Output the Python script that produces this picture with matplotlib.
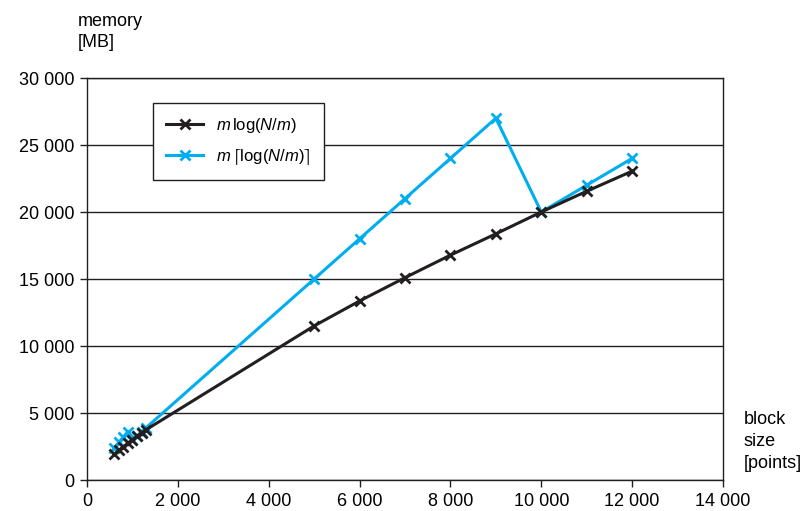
import matplotlib
import matplotlib.pyplot as plt
from matplotlib.ticker import FuncFormatter

matplotlib.use("Agg")

plt.rcParams["font.family"] = ["Liberation Sans", "DejaVu Sans"]
plt.rcParams["mathtext.fontset"] = "custom"
plt.rcParams["mathtext.rm"] = "Liberation Sans"
plt.rcParams["mathtext.it"] = "Liberation Sans:italic"
plt.rcParams["mathtext.fallback"] = "stixsans"

# block sizes [points]
block_size = [600, 700, 800, 900, 1000, 1100, 1200, 1300,
              5000, 6000, 7000, 8000, 9000, 10000, 11000, 12000]
# memory [MB]
mem_log = [1930, 2210, 2480, 2740, 3000, 3250, 3500, 3750,
           11500, 13360, 15100, 16780, 18370, 20000, 21550, 23050]
mem_ceil = [2400, 2800, 3200, 3600, 3000, 3300, 3600, 3900,
            15000, 18000, 21000, 24000, 27000, 20000, 22000, 24000]

BLACK = "#231f20"
CYAN = "#00aeef"

fig = plt.figure(figsize=(8.04, 5.11), dpi=100)
ax = fig.add_axes([87 / 804, 31 / 511, 636 / 804, 402 / 511])

ax.plot(block_size, mem_ceil, color=CYAN, lw=2.2, marker="x", ms=7, mew=2,
        label=r"$m\,\left\lceil\mathrm{log}(N/m)\right\rceil$", zorder=3)
ax.plot(block_size, mem_log, color=BLACK, lw=2.2, marker="x", ms=7, mew=2,
        label=r"$m\,$log($N$/$m$)", zorder=4)

ax.set_xlim(0, 14000)
ax.set_ylim(0, 30000)
ax.set_xticks(range(0, 14001, 2000))
ax.set_yticks(range(0, 30001, 5000))

fmt = FuncFormatter(lambda v, p: f"{int(v):,}".replace(",", " "))
ax.xaxis.set_major_formatter(fmt)
ax.yaxis.set_major_formatter(fmt)
ax.tick_params(labelsize=13, length=5, width=1, color=BLACK, pad=4)

ax.grid(axis="y", color=BLACK, lw=1)
ax.set_axisbelow(True)
for s in ax.spines.values():
    s.set_color(BLACK)
    s.set_linewidth(1)

# keep the legend order as in the reference (black first)
h, l = ax.get_legend_handles_labels()
leg = ax.legend(h[::-1], l[::-1], loc="upper left", bbox_to_anchor=(0.104, 0.938),
                borderaxespad=0, fontsize=12, frameon=True, fancybox=False,
                edgecolor=BLACK, framealpha=1, handlelength=2.2, borderpad=0.8,
                labelspacing=0.7)
leg.get_frame().set_linewidth(1)

fig.text(78 / 804, 1 - 13 / 511, "memory\n[MB]", fontsize=13, ha="left", va="top",
         linespacing=1.3)
fig.text(744 / 804, 1 - 411 / 511, "block\nsize\n[points]", fontsize=13, ha="left",
         va="top", linespacing=1.4)

fig.savefig("out.png", dpi=100)
